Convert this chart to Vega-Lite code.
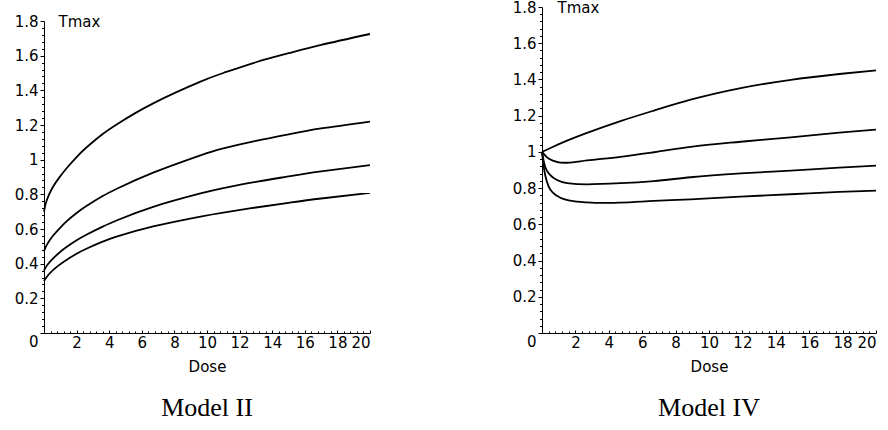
{
  "$schema": "https://vega.github.io/schema/vega-lite/v6.json",
  "background": "white",
  "padding": {"left": 14, "top": 0, "right": 5, "bottom": 5},
  "config": {
    "view": {"stroke": null},
    "axis": {"grid": false, "domainColor": "black", "domainWidth": 1, "tickColor": "black", "labelColor": "black", "titleColor": "black", "labelFont": "DejaVu Sans", "titleFont": "DejaVu Sans", "labelFontSize": 15, "titleFontSize": 15, "titleFontWeight": "normal"}
  },
  "bounds": "flush",
  "spacing": 172,
  "hconcat": [
    {
      "width": 326,
      "height": 326,
      "title": {"text": "Model II", "orient": "bottom", "font": "Liberation Serif", "fontSize": 26, "fontWeight": "normal", "color": "black", "offset": 21},
      "data": {"values": [
        {"curve": "A", "dose": 0, "tmax": 0.70}, {"curve": "A", "dose": 0.1, "tmax": 0.745}, {"curve": "A", "dose": 0.25, "tmax": 0.785}, {"curve": "A", "dose": 0.5, "tmax": 0.835}, {"curve": "A", "dose": 0.9, "tmax": 0.892}, {"curve": "A", "dose": 1.4, "tmax": 0.952}, {"curve": "A", "dose": 2, "tmax": 1.015}, {"curve": "A", "dose": 2.6, "tmax": 1.07}, {"curve": "A", "dose": 3.6, "tmax": 1.148}, {"curve": "A", "dose": 4.6, "tmax": 1.212}, {"curve": "A", "dose": 6.7, "tmax": 1.325}, {"curve": "A", "dose": 9.6, "tmax": 1.45}, {"curve": "A", "dose": 11, "tmax": 1.5}, {"curve": "A", "dose": 13, "tmax": 1.562}, {"curve": "A", "dose": 15, "tmax": 1.614}, {"curve": "A", "dose": 17, "tmax": 1.662}, {"curve": "A", "dose": 20, "tmax": 1.725},
        {"curve": "B", "dose": 0, "tmax": 0.47}, {"curve": "B", "dose": 0.1, "tmax": 0.495}, {"curve": "B", "dose": 0.25, "tmax": 0.52}, {"curve": "B", "dose": 0.5, "tmax": 0.555}, {"curve": "B", "dose": 0.9, "tmax": 0.598}, {"curve": "B", "dose": 1.4, "tmax": 0.645}, {"curve": "B", "dose": 2, "tmax": 0.692}, {"curve": "B", "dose": 2.6, "tmax": 0.732}, {"curve": "B", "dose": 3.6, "tmax": 0.79}, {"curve": "B", "dose": 4.6, "tmax": 0.838}, {"curve": "B", "dose": 6.7, "tmax": 0.925}, {"curve": "B", "dose": 9.6, "tmax": 1.025}, {"curve": "B", "dose": 11, "tmax": 1.065}, {"curve": "B", "dose": 13, "tmax": 1.108}, {"curve": "B", "dose": 15, "tmax": 1.146}, {"curve": "B", "dose": 17, "tmax": 1.18}, {"curve": "B", "dose": 20, "tmax": 1.22},
        {"curve": "C", "dose": 0, "tmax": 0.36}, {"curve": "C", "dose": 0.1, "tmax": 0.378}, {"curve": "C", "dose": 0.25, "tmax": 0.398}, {"curve": "C", "dose": 0.5, "tmax": 0.425}, {"curve": "C", "dose": 0.9, "tmax": 0.46}, {"curve": "C", "dose": 1.4, "tmax": 0.497}, {"curve": "C", "dose": 2, "tmax": 0.535}, {"curve": "C", "dose": 2.6, "tmax": 0.567}, {"curve": "C", "dose": 3.6, "tmax": 0.614}, {"curve": "C", "dose": 4.6, "tmax": 0.655}, {"curve": "C", "dose": 6.7, "tmax": 0.728}, {"curve": "C", "dose": 9.6, "tmax": 0.805}, {"curve": "C", "dose": 11, "tmax": 0.836}, {"curve": "C", "dose": 13, "tmax": 0.872}, {"curve": "C", "dose": 15, "tmax": 0.903}, {"curve": "C", "dose": 17, "tmax": 0.932}, {"curve": "C", "dose": 20, "tmax": 0.968},
        {"curve": "D", "dose": 0, "tmax": 0.30}, {"curve": "D", "dose": 0.1, "tmax": 0.315}, {"curve": "D", "dose": 0.25, "tmax": 0.333}, {"curve": "D", "dose": 0.5, "tmax": 0.358}, {"curve": "D", "dose": 0.9, "tmax": 0.39}, {"curve": "D", "dose": 1.4, "tmax": 0.423}, {"curve": "D", "dose": 2, "tmax": 0.457}, {"curve": "D", "dose": 2.6, "tmax": 0.486}, {"curve": "D", "dose": 3.6, "tmax": 0.527}, {"curve": "D", "dose": 4.6, "tmax": 0.56}, {"curve": "D", "dose": 6.7, "tmax": 0.615}, {"curve": "D", "dose": 9.6, "tmax": 0.672}, {"curve": "D", "dose": 11, "tmax": 0.695}, {"curve": "D", "dose": 13, "tmax": 0.724}, {"curve": "D", "dose": 15, "tmax": 0.751}, {"curve": "D", "dose": 17, "tmax": 0.776}, {"curve": "D", "dose": 20, "tmax": 0.808}
      ]},
      "layer": [
        {
          "mark": {"type": "line", "interpolate": "natural", "color": "black", "strokeWidth": 1.8},
          "encoding": {
            "x": {"field": "dose", "type": "quantitative", "scale": {"domain": [0, 20], "nice": false},
              "axis": {"values": [2, 4, 6, 8, 10, 12, 14, 16, 18, 20], "tickSize": -3, "labelPadding": 5, "title": "Dose", "titlePadding": 9}},
            "y": {"field": "tmax", "type": "quantitative", "scale": {"domain": [0, 1.8], "nice": false, "range": [326, 14]},
              "axis": {"values": [0, 0.2, 0.4, 0.6, 0.8, 1, 1.2, 1.4, 1.6, 1.8], "format": "~g", "tickSize": 4, "labelPadding": 2,
                "labelOffset": {"condition": {"test": "datum.value == 0", "value": 8}, "value": 0},
                "title": "Tmax", "titleAngle": 0, "titleAlign": "left", "titleBaseline": "middle", "titleX": 14, "titleY": 14}},
            "detail": {"field": "curve"}
          }
        },
        {
          "mark": {"type": "line", "strokeOpacity": 0},
          "encoding": {
            "x": {"field": "dose", "type": "quantitative",
              "axis": {"orient": "bottom", "domain": false, "labels": false, "title": null, "tickSize": -2,
                "values": [0.4,0.8,1.2,1.6,2.4,2.8,3.2,3.6,4.4,4.8,5.2,5.6,6.4,6.8,7.2,7.6,8.4,8.8,9.2,9.6,10.4,10.8,11.2,11.6,12.4,12.8,13.2,13.6,14.4,14.8,15.2,15.6,16.4,16.8,17.2,17.6,18.4,18.8,19.2,19.6]}},
            "y": {"field": "tmax", "type": "quantitative",
              "axis": {"orient": "left", "domain": false, "labels": false, "title": null, "tickSize": 2.5,
                "values": [0.04,0.08,0.12,0.16,0.24,0.28,0.32,0.36,0.44,0.48,0.52,0.56,0.64,0.68,0.72,0.76,0.84,0.88,0.92,0.96,1.04,1.08,1.12,1.16,1.24,1.28,1.32,1.36,1.44,1.48,1.52,1.56,1.64,1.68,1.72,1.76]}},
            "detail": {"field": "curve"}
          }
        }
      ],
      "resolve": {"axis": {"x": "independent", "y": "independent"}}
    },
    {
      "width": 334,
      "height": 326,
      "title": {"text": "Model IV", "orient": "bottom", "font": "Liberation Serif", "fontSize": 26, "fontWeight": "normal", "color": "black", "offset": 21},
      "data": {"values": [
        {"curve": "A", "dose": 0, "tmax": 1.0}, {"curve": "A", "dose": 0.7, "tmax": 1.03}, {"curve": "A", "dose": 1.5, "tmax": 1.062}, {"curve": "A", "dose": 2.7, "tmax": 1.105}, {"curve": "A", "dose": 4.7, "tmax": 1.17}, {"curve": "A", "dose": 6.7, "tmax": 1.228}, {"curve": "A", "dose": 8.9, "tmax": 1.288}, {"curve": "A", "dose": 11.9, "tmax": 1.352}, {"curve": "A", "dose": 14.9, "tmax": 1.398}, {"curve": "A", "dose": 17.8, "tmax": 1.43}, {"curve": "A", "dose": 20, "tmax": 1.45},
        {"curve": "B", "dose": 0, "tmax": 1.0}, {"curve": "B", "dose": 0.15, "tmax": 0.985}, {"curve": "B", "dose": 0.3, "tmax": 0.97}, {"curve": "B", "dose": 0.7, "tmax": 0.95}, {"curve": "B", "dose": 1.1, "tmax": 0.941}, {"curve": "B", "dose": 1.5, "tmax": 0.94}, {"curve": "B", "dose": 2.7, "tmax": 0.953}, {"curve": "B", "dose": 4.7, "tmax": 0.973}, {"curve": "B", "dose": 6.7, "tmax": 0.998}, {"curve": "B", "dose": 8.9, "tmax": 1.028}, {"curve": "B", "dose": 11.9, "tmax": 1.056}, {"curve": "B", "dose": 14.9, "tmax": 1.08}, {"curve": "B", "dose": 17.8, "tmax": 1.106}, {"curve": "B", "dose": 20, "tmax": 1.123},
        {"curve": "C", "dose": 0, "tmax": 1.0}, {"curve": "C", "dose": 0.1, "tmax": 0.95}, {"curve": "C", "dose": 0.2, "tmax": 0.915}, {"curve": "C", "dose": 0.5, "tmax": 0.872}, {"curve": "C", "dose": 0.9, "tmax": 0.845}, {"curve": "C", "dose": 1.5, "tmax": 0.828}, {"curve": "C", "dose": 2.7, "tmax": 0.821}, {"curve": "C", "dose": 4.7, "tmax": 0.827}, {"curve": "C", "dose": 6.7, "tmax": 0.839}, {"curve": "C", "dose": 8.9, "tmax": 0.86}, {"curve": "C", "dose": 11.9, "tmax": 0.881}, {"curve": "C", "dose": 14.9, "tmax": 0.897}, {"curve": "C", "dose": 17.8, "tmax": 0.913}, {"curve": "C", "dose": 20, "tmax": 0.924},
        {"curve": "D", "dose": 0, "tmax": 1.0}, {"curve": "D", "dose": 0.1, "tmax": 0.92}, {"curve": "D", "dose": 0.2, "tmax": 0.868}, {"curve": "D", "dose": 0.4, "tmax": 0.808}, {"curve": "D", "dose": 0.7, "tmax": 0.771}, {"curve": "D", "dose": 1.1, "tmax": 0.747}, {"curve": "D", "dose": 1.7, "tmax": 0.731}, {"curve": "D", "dose": 2.7, "tmax": 0.721}, {"curve": "D", "dose": 3.7, "tmax": 0.718}, {"curve": "D", "dose": 4.7, "tmax": 0.72}, {"curve": "D", "dose": 6.7, "tmax": 0.729}, {"curve": "D", "dose": 8.9, "tmax": 0.738}, {"curve": "D", "dose": 11.9, "tmax": 0.753}, {"curve": "D", "dose": 14.9, "tmax": 0.766}, {"curve": "D", "dose": 17.8, "tmax": 0.779}, {"curve": "D", "dose": 20, "tmax": 0.786}
      ]},
      "layer": [
        {
          "mark": {"type": "line", "interpolate": "monotone", "color": "black", "strokeWidth": 1.8},
          "encoding": {
            "x": {"field": "dose", "type": "quantitative", "scale": {"domain": [0, 20], "nice": false},
              "axis": {"values": [2, 4, 6, 8, 10, 12, 14, 16, 18, 20], "tickSize": -3, "labelPadding": 5, "title": "Dose", "titlePadding": 9}},
            "y": {"field": "tmax", "type": "quantitative", "scale": {"domain": [0, 1.8], "nice": false},
              "axis": {"values": [0, 0.2, 0.4, 0.6, 0.8, 1, 1.2, 1.4, 1.6, 1.8], "format": "~g", "tickSize": 4, "labelPadding": 2,
                "labelOffset": {"condition": {"test": "datum.value == 0", "value": 8}, "value": 0},
                "title": "Tmax", "titleAngle": 0, "titleAlign": "left", "titleBaseline": "middle", "titleX": 15, "titleY": 0}},
            "detail": {"field": "curve"}
          }
        },
        {
          "mark": {"type": "line", "strokeOpacity": 0},
          "encoding": {
            "x": {"field": "dose", "type": "quantitative",
              "axis": {"orient": "bottom", "domain": false, "labels": false, "title": null, "tickSize": -2,
                "values": [0.4,0.8,1.2,1.6,2.4,2.8,3.2,3.6,4.4,4.8,5.2,5.6,6.4,6.8,7.2,7.6,8.4,8.8,9.2,9.6,10.4,10.8,11.2,11.6,12.4,12.8,13.2,13.6,14.4,14.8,15.2,15.6,16.4,16.8,17.2,17.6,18.4,18.8,19.2,19.6]}},
            "y": {"field": "tmax", "type": "quantitative",
              "axis": {"orient": "left", "domain": false, "labels": false, "title": null, "tickSize": 2.5,
                "values": [0.04,0.08,0.12,0.16,0.24,0.28,0.32,0.36,0.44,0.48,0.52,0.56,0.64,0.68,0.72,0.76,0.84,0.88,0.92,0.96,1.04,1.08,1.12,1.16,1.24,1.28,1.32,1.36,1.44,1.48,1.52,1.56,1.64,1.68,1.72,1.76]}},
            "detail": {"field": "curve"}
          }
        }
      ],
      "resolve": {"axis": {"x": "independent", "y": "independent"}}
    }
  ]
}
